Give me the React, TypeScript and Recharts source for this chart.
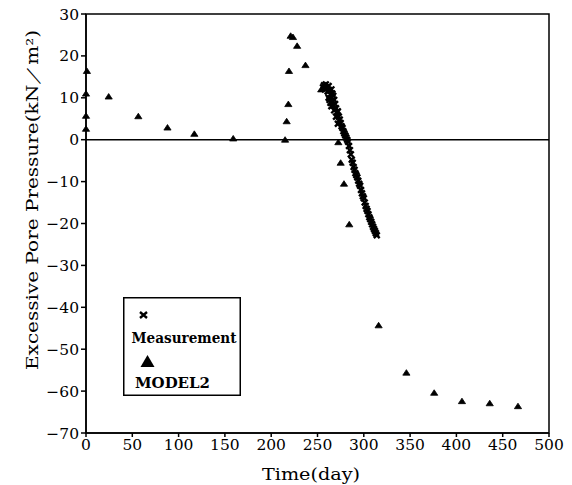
import {
  Legend,
  ReferenceArea,
  ReferenceLine,
  Scatter,
  ScatterChart,
  XAxis,
  YAxis,
} from "recharts";

const FONT = "'DejaVu Serif', 'Liberation Serif', serif";

// MODEL2 (triangles)
const modelDays = [
  0, 0, 0, 1, 24.5, 56.5, 88, 117, 159, 215, 216.7, 218.5, 219.2, 221, 223.5, 228, 237,
  254, 272.5, 275, 278.6, 284.3, 316, 346, 376, 406, 436, 466.5,
];
const modelValues = [
  2.6, 5.7, 11, 16.4, 10.3, 5.6, 2.9, 1.4, 0.3, 0, 4.4, 8.5, 16.4, 24.8, 24.5, 22.4, 17.8,
  12, -0.6, -5.5, -10.5, -20.2, -44.3, -55.6, -60.4, -62.4, -62.9, -63.6,
];

// Measurement (crosses)
const measDays = [
  256, 257, 258, 259, 260, 261, 262, 263, 264, 265, 266, 267,
  262, 263, 264, 266, 268, 265, 267, 269, 268, 270, 271, 272, 270, 273, 274, 275, 272, 276,
  277, 278, 279, 280, 281, 282, 283, 284, 285, 286, 287, 288, 289, 290, 291, 292, 293, 294,
  295, 296, 297, 298, 299, 300, 301, 302, 303, 304, 305, 306, 307, 308, 309, 310, 311, 312,
  313, 314,
];
const measValues = [
  12.5, 13, 12, 13.2, 12.4, 11.5, 12.8, 11.8, 10.8, 12, 11, 10.5,
  10, 9.5, 8.8, 9.2, 9.5, 8, 8.2, 8.5, 7, 7.5, 6.5, 6.8, 5.5, 5.5, 4.8, 4, 3.8, 3.2,
  2.8, 2, 1.5, 1, 0.5, 0, -0.5, -1.5, -2.5, -3.5, -4.8, -5.5, -6.5, -7.2, -8, -8.5, -9, -9.8,
  -10.5, -11, -12, -12.8, -13.5, -14, -15, -15.8, -16.5, -17, -17.8, -18.5, -19, -19.6, -20.2,
  -20.8, -21.3, -21.8, -22.3, -22.8,
];

const xTicks = [0, 50, 100, 150, 200, 250, 300, 350, 400, 450, 500];
const yTicks = [-70, -60, -50, -40, -30, -20, -10, 0, 10, 20, 30];

const modelData = modelDays.map((d, i) => ({ day: d, value: modelValues[i] }));
const measData = measDays.map((d, i) => ({ day: d, value: measValues[i] }));

function Triangle(props: any) {
  const { cx, cy } = props;
  if (cx == null || cy == null) return null;
  return (
    <path
      d={`M${cx},${cy - 3} L${cx + 3.6},${cy + 2.5} L${cx - 3.6},${cy + 2.5} Z`}
      fill="#000"
      stroke="#000"
      strokeWidth={0.8}
    />
  );
}

function Cross(props: any) {
  const { cx, cy } = props;
  if (cx == null || cy == null) return null;
  const s = 2.9;
  return (
    <path
      d={`M${cx - s},${cy - s} L${cx + s},${cy + s} M${cx + s},${cy - s} L${cx - s},${cy + s}`}
      stroke="#000"
      strokeWidth={2.4}
      fill="none"
    />
  );
}

function LegendBox() {
  return (
    <svg width={118} height={99} style={{ display: "block" }}>
      <rect x={0.75} y={0.75} width={116.5} height={97.5} fill="#fff" stroke="#000" strokeWidth={1.5} />
      <path d="M17,15 L24,21 M24,15 L17,21" stroke="#000" strokeWidth={2.4} />
      <text x={8.5} y={46} fontFamily={FONT} fontSize={14} fontWeight={600} textLength={105} lengthAdjust="spacingAndGlyphs">
        Measurement
      </text>
      <path d="M24.5,58 L31.5,70 L17.5,70 Z" fill="#000" />
      <text x={12} y={91} fontFamily={FONT} fontSize={14} fontWeight={600} textLength={75} lengthAdjust="spacingAndGlyphs">
        MODEL2
      </text>
    </svg>
  );
}

const fmtY = (v: number) => (v < 0 ? `\u2212${-v}` : String(v));

export default function App() {
  return (
    <div style={{ position: "absolute", left: 0, top: 0, background: "#fff" }}>
      <ScatterChart width={572} height={485} margin={{ top: 14, right: 23, bottom: 0, left: 0 }}>
        <XAxis
          type="number"
          dataKey="day"
          domain={[0, 500]}
          ticks={xTicks}
          interval={0}
          height={52}
          stroke="#000"
          strokeWidth={1.5}
          tickSize={4}
          tickMargin={2}
          tick={{ fontSize: 15.5, fill: "#000", fontFamily: FONT }}
          label={{
            content: () => (
              <text x={311} y={480} textAnchor="middle" fontFamily={FONT} fontSize={16} fill="#000" textLength={98} lengthAdjust="spacingAndGlyphs">
                Time(day)
              </text>
            ),
          }}
        />
        <YAxis
          type="number"
          dataKey="value"
          domain={[-70, 30]}
          ticks={yTicks}
          interval={0}
          width={86}
          stroke="#000"
          strokeWidth={1.5}
          tickSize={5}
          tickMargin={2}
          tickFormatter={fmtY}
          tick={{ fontSize: 15.5, fill: "#000", fontFamily: FONT }}
          label={{
            content: () => (
              <text
                x={38}
                y={200}
                transform="rotate(-90 38 200)"
                textAnchor="middle"
                fontFamily={FONT}
                fontSize={16}
                fill="#000"
                textLength={340}
                lengthAdjust="spacingAndGlyphs"
              >
                Excessive Pore Pressure(kN／m²)
              </text>
            ),
          }}
        />
        <ReferenceArea x1={0} x2={500} y1={-70} y2={30} fill="none" fillOpacity={0} stroke="#000" strokeWidth={1.5} />
        <ReferenceLine y={0} stroke="#000" strokeWidth={1.5} />
        <Scatter name="MODEL2" data={modelData} shape={Triangle} isAnimationActive={false} />
        <Scatter name="Measurement" data={measData} shape={Cross} isAnimationActive={false} />
        <Legend
          layout="vertical"
          align="center"
          verticalAlign="middle"
          content={() => <LegendBox />}
          wrapperStyle={{ position: "absolute", left: 123, top: 297, width: 118, height: 99 }}
        />
      </ScatterChart>
    </div>
  );
}
